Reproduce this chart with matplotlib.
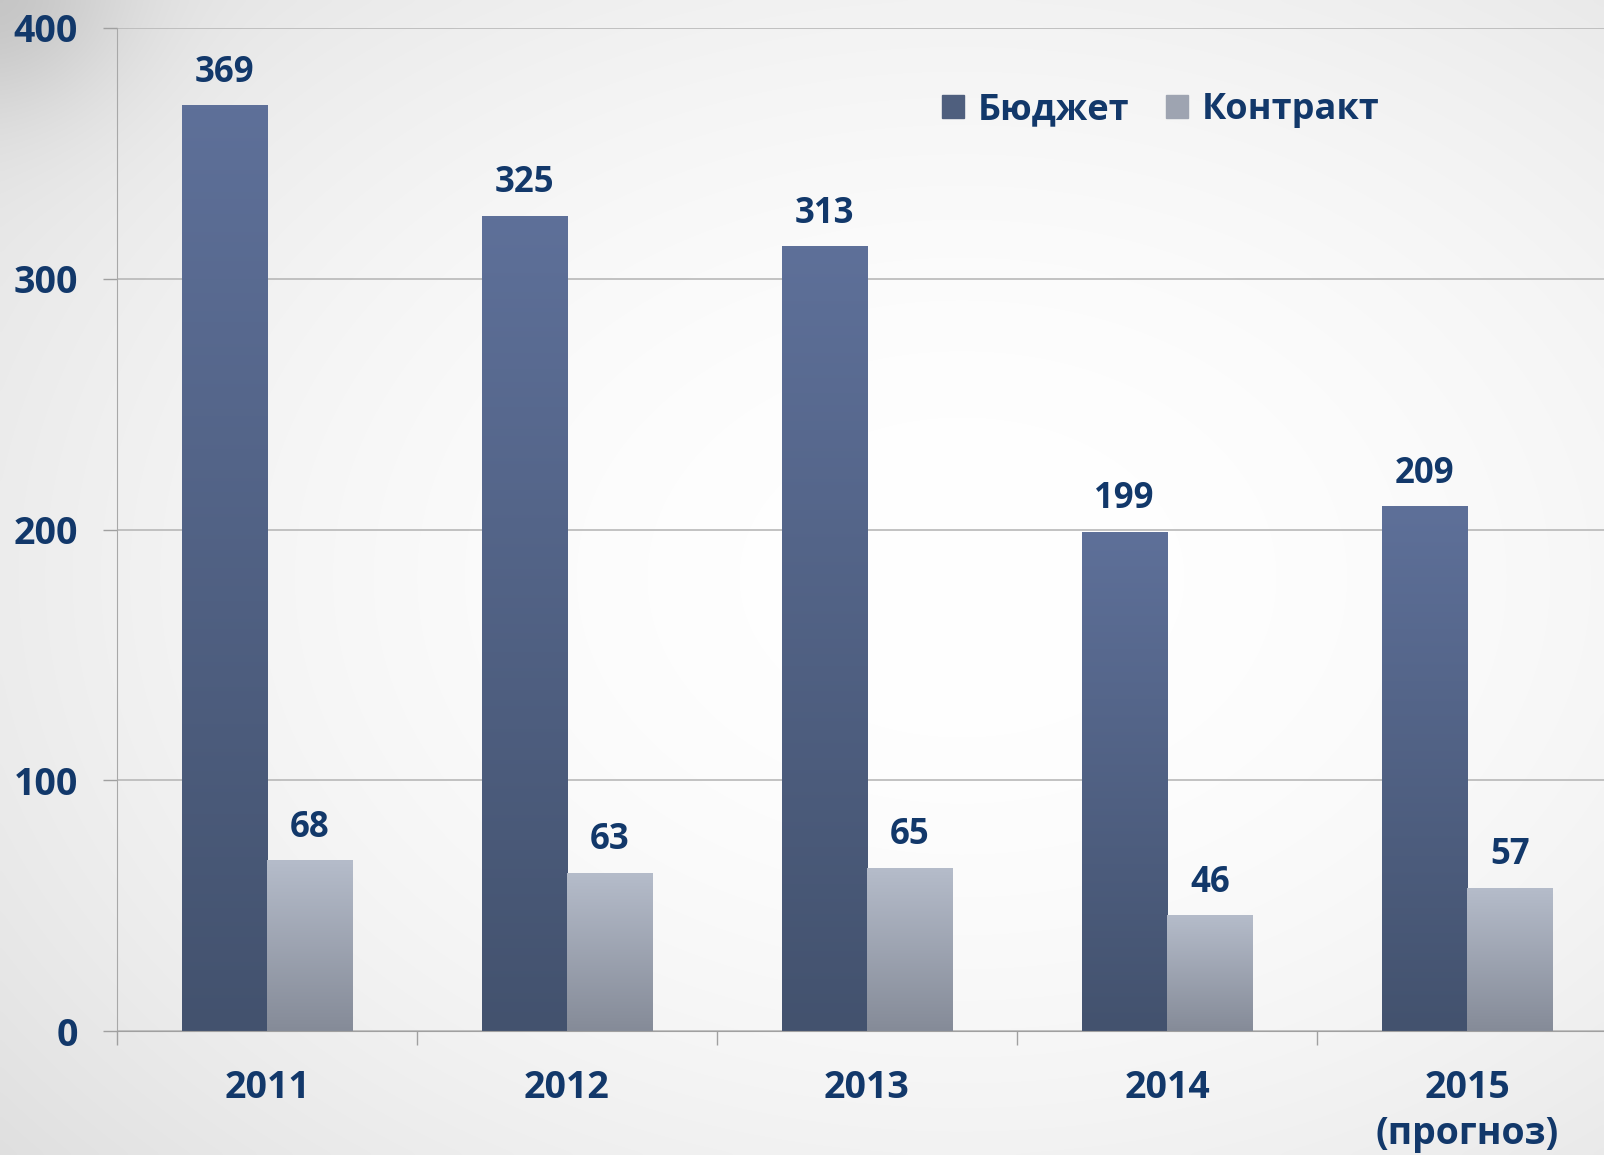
import numpy as np
import matplotlib.pyplot as plt
from matplotlib.patches import Patch
from matplotlib.colors import LinearSegmentedColormap

# data
years = ['2011', '2012', '2013', '2014', '2015\n(прогноз)']
budget = [369, 325, 313, 199, 209]
contract = [68, 63, 65, 46, 57]
series_names = ['Бюджет', 'Контракт']

text_color = '#12386a'
budget_cmap = LinearSegmentedColormap.from_list('b', ['#43526e', '#5e7099'])
contract_cmap = LinearSegmentedColormap.from_list('c', ['#858b98', '#b5bcca'])

plt.rcParams['font.family'] = ['Open Sans', 'DejaVu Sans']
plt.rcParams['font.weight'] = 'bold'

fig = plt.figure(figsize=(16.04, 11.55), dpi=100)

# background: soft radial gradient, white in the middle, grey at the corners
bg = fig.add_axes([0, 0, 1, 1], zorder=-10)
gx, gy = np.meshgrid(np.linspace(0, 1, 400), np.linspace(0, 1, 300))
r = np.sqrt(((gx - 0.6) / 0.8) ** 2 + ((gy - 0.5) / 0.8) ** 2)
shade = 1 - 0.13 * np.clip(r, 0, 1) ** 2
shade -= 0.1 * np.exp(-((gx / 0.08) ** 2 + (gy / 0.1) ** 2))
bg.imshow(np.dstack([shade] * 3), extent=(0, 1, 0, 1), aspect='auto',
          origin='upper', interpolation='bicubic')
bg.axis('off')

ax = fig.add_axes([117 / 1604, 124 / 1155, 1500 / 1604, 1003 / 1155])
ax.set_facecolor('none')

x = np.arange(len(years)) + 0.5
w = 0.285
b_bars = ax.bar(x - w / 2, budget, w, color='#50617f', zorder=3)
c_bars = ax.bar(x + w / 2, contract, w, color='#9ea4b1', zorder=3)

# vertical gradient on each bar
grad = np.linspace(0, 1, 256).reshape(-1, 1)
for bars, cmap in [(b_bars, budget_cmap), (c_bars, contract_cmap)]:
    for bar in bars:
        x0 = bar.get_x()
        x1 = x0 + bar.get_width()
        h = bar.get_height()
        ax.imshow(grad, cmap=cmap, extent=(x0, x1, 0, h), aspect='auto',
                  origin='lower', zorder=4)

# value labels
for bars, vals in [(b_bars, budget), (c_bars, contract)]:
    for bar, v in zip(bars, vals):
        ax.annotate(str(v), (bar.get_x() + bar.get_width() / 2, v),
                    xytext=(0, 17), textcoords='offset points',
                    ha='center', va='baseline', fontsize=25,
                    fontweight='bold', color=text_color)

ax.set_xlim(0, len(years))
ax.set_ylim(0, 400)
ax.set_yticks([0, 100, 200, 300, 400])
ax.set_xticks(np.arange(len(years) + 1))
ax.set_xticklabels([])
ax.set_xticks(x, minor=True)
ax.set_xticklabels(years, minor=True, fontsize=27, fontweight='bold',
                   color=text_color, linespacing=1.3)
ax.tick_params(axis='x', which='minor', length=0, pad=27)
ax.tick_params(axis='x', which='major', length=10, color='#a0a0a0', width=1)
ax.tick_params(axis='y', length=10, color='#a0a0a0', width=1, pad=18,
               labelsize=27, labelcolor=text_color)
for lab in ax.get_yticklabels():
    lab.set_fontweight('bold')

ax.grid(axis='y', color='#b8b8b8', linewidth=1.2, zorder=0)
for s in ['top', 'right']:
    ax.spines[s].set_visible(False)
ax.spines['left'].set_color('#a8a8a8')
ax.spines['bottom'].set_color('#a0a0a0')
ax.spines['bottom'].set_zorder(5)

handles = [Patch(color='#4f5f7e'), Patch(color='#9ea4b1')]
leg = fig.legend(handles, series_names, loc='center left',
                 bbox_to_anchor=(942 / 1604, 1 - 110 / 1155), ncol=2,
                 frameon=False, fontsize=26, handlelength=0.6,
                 handleheight=0.6, handletextpad=0.4, columnspacing=1.0,
                 borderpad=0, borderaxespad=0)
for t in leg.get_texts():
    t.set_color(text_color)
    t.set_fontweight('bold')

fig.savefig('out.png', dpi=100)
